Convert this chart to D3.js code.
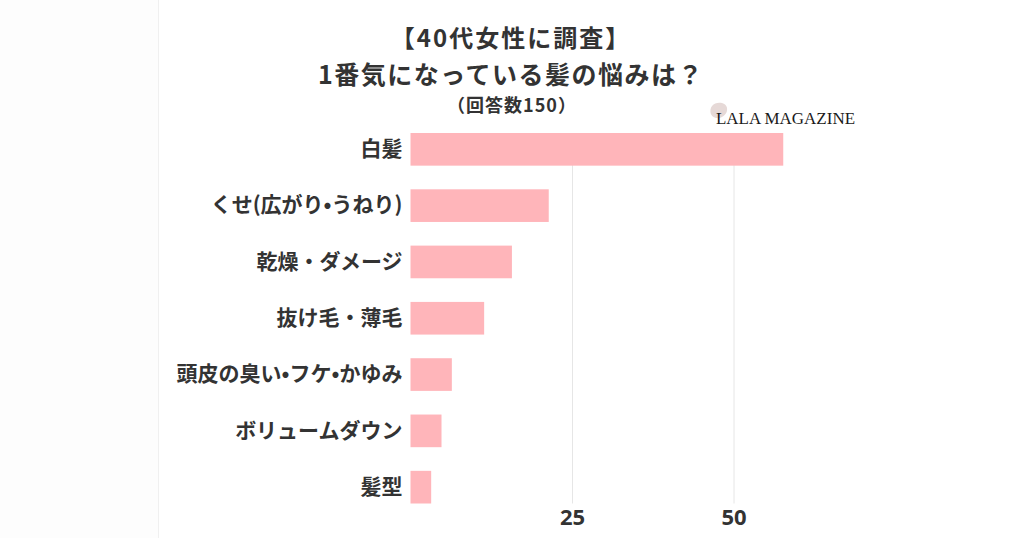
<!DOCTYPE html>
<html><head><meta charset="utf-8">
<script src="https://cdn.jsdelivr.net/npm/d3@7"></script>
<style>
html,body{margin:0;padding:0;background:#fdfdfd;}
svg{display:block;}
text{font-family:"Noto Sans CJK JP","Noto Sans",sans-serif;}
</style></head>
<body>
<svg id="c" width="1024" height="538"></svg>
<script>
const categories = ["白髪","くせ(広がり•うねり)","乾燥・ダメージ","抜け毛・薄毛","頭皮の臭い•フケ•かゆみ","ボリュームダウン","髪型"];
const values = [57.7, 21.4, 15.7, 11.4, 6.4, 4.8, 3.2];
const tickValues = [25, 50];
const titleLines = ["【40代女性に調査】","1番気になっている髪の悩みは？"];
const subtitle = "（回答数150）";
const brand = "LALA MAGAZINE";

const svg = d3.select("#c");
const textColor = "#333333";

// panel background
svg.append("rect").attr("x",158).attr("y",0).attr("width",866).attr("height",538).attr("fill","#ffffff");
svg.append("line").attr("x1",158.5).attr("x2",158.5).attr("y1",0).attr("y2",538).attr("stroke","#f0f0f0");

const x = d3.scaleLinear().domain([0, 60]).range([410.5, 410.5 + 60*6.46]);
const y = d3.scaleBand().domain(categories).range([133, 503.5]).paddingInner(0.42).paddingOuter(0);

// x axis with gridlines
const xAxis = d3.axisBottom(x).tickValues(tickValues).tickSize(-(503.5-133)).tickPadding(6).tickFormat(d3.format("d"));
const gx = svg.append("g").attr("transform","translate(0,503.5)").call(xAxis);
gx.select(".domain").remove();
gx.selectAll(".tick line").attr("stroke","#e6e6e6").attr("stroke-width",1);
gx.selectAll(".tick text").attr("fill",textColor).style("font-size","22px").style("font-weight","700")
  .style("font-family","'Noto Sans','Noto Sans CJK JP',sans-serif");

// bars
svg.append("g").selectAll("rect").data(values).join("rect")
  .attr("x", x(0))
  .attr("y", (d,i)=>y(categories[i]))
  .attr("width", d=>x(d)-x(0))
  .attr("height", y.bandwidth())
  .attr("fill","#ffb5ba");

// y axis labels
const yAxis = d3.axisLeft(y).tickSize(0).tickPadding(8);
const gy = svg.append("g").attr("transform",`translate(${x(0)},0)`).call(yAxis);
gy.select(".domain").remove();
gy.selectAll(".tick text").attr("fill",textColor).style("font-size","21px").style("font-weight","700")
  .style("font-family","'Noto Sans CJK JP',sans-serif");

// titles
const tg = svg.append("g");
tg.append("text").attr("x",511).attr("y",47).attr("text-anchor","middle")
  .attr("fill",textColor).style("font-size","24px").style("font-weight","700").style("letter-spacing","2px")
  .text(titleLines[0]);
tg.append("text").attr("x",511).attr("y",84).attr("text-anchor","middle")
  .attr("fill",textColor).style("font-size","25px").style("font-weight","700").style("letter-spacing","1.5px")
  .text(titleLines[1]);
tg.append("text").attr("x",512).attr("y",112).attr("text-anchor","middle")
  .attr("fill",textColor).style("font-size","18px").style("font-weight","700").style("letter-spacing","1px")
  .text(subtitle);

// brand logo
svg.append("path").attr("d","M712,106 C716,101 726,102 727,108 C728,114 722,119 716,118 C710,117 709,110 712,106 Z")
  .attr("fill","#e6d9d7");
svg.append("text").attr("x",716).attr("y",124).attr("textLength",139).attr("lengthAdjust","spacingAndGlyphs")
  .attr("fill","#1a1a1a").style("font-family","'Liberation Serif','DejaVu Serif',serif").style("font-size","17px")
  .text(brand);
</script>
</body></html>
